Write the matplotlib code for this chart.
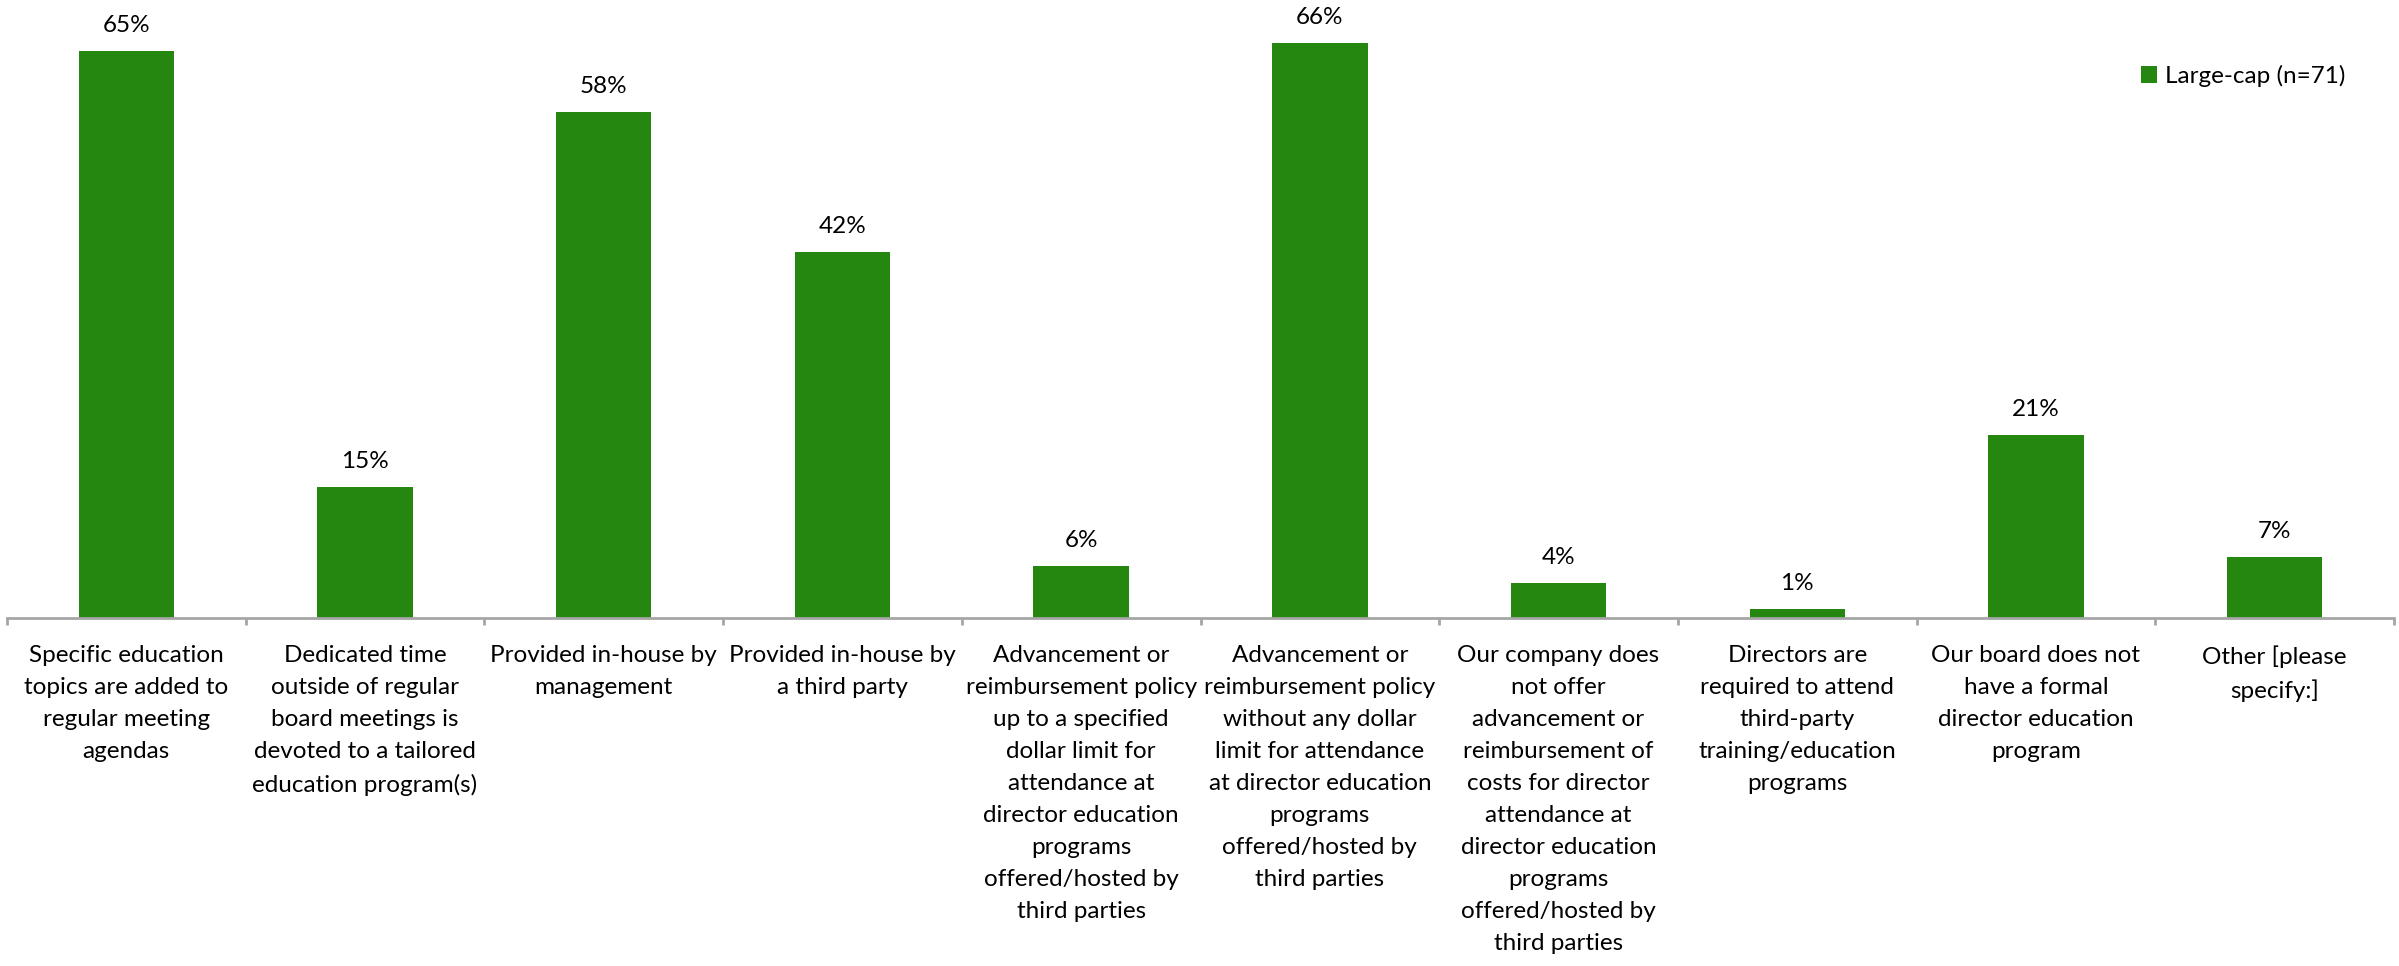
import matplotlib
matplotlib.use("Agg")
import matplotlib.pyplot as plt
from matplotlib.patches import Patch

categories = [
    "Specific education\ntopics are added to\nregular meeting\nagendas",
    "Dedicated time\noutside of regular\nboard meetings is\ndevoted to a tailored\neducation program(s)",
    "Provided in-house by\nmanagement",
    "Provided in-house by\na third party",
    "Advancement or\nreimbursement policy\nup to a specified\ndollar limit for\nattendance at\ndirector education\nprograms\noffered/hosted by\nthird parties",
    "Advancement or\nreimbursement policy\nwithout any dollar\nlimit for attendance\nat director education\nprograms\noffered/hosted by\nthird parties",
    "Our company does\nnot offer\nadvancement or\nreimbursement of\ncosts for director\nattendance at\ndirector education\nprograms\noffered/hosted by\nthird parties",
    "Directors are\nrequired to attend\nthird-party\ntraining/education\nprograms",
    "Our board does not\nhave a formal\ndirector education\nprogram",
    "Other [please\nspecify:]",
]
values = [65, 15, 58, 42, 6, 66, 4, 1, 21, 7]
series_name = "Large-cap (n=71)"

GREEN = "#268710"
AXIS_GRAY = "#A6A6A6"
FONT = ["Lato", "DejaVu Sans"]
FS = 17.5

W, H = 2399, 966
fig = plt.figure(figsize=(W / 100, H / 100), dpi=100)
ax = fig.add_axes([7 / W, (H - 618) / H, (2394 - 7) / W, 618 / H])

x = list(range(len(values)))
bars = ax.bar(x, values, width=0.40, color=GREEN, zorder=2)

ax.set_xlim(-0.5, len(values) - 0.5)
ax.set_ylim(0, 70.9)

for b, v in zip(bars, values):
    ax.annotate(f"{v}%", (b.get_x() + b.get_width() / 2, v),
                xytext=(0, 15), textcoords="offset pixels",
                ha="center", va="bottom", fontsize=FS, family=FONT,
                color="#000000")

# category axis: only the bottom line with ticks between categories
for s in ("top", "right", "left"):
    ax.spines[s].set_visible(False)
ax.spines["bottom"].set_color(AXIS_GRAY)
ax.spines["bottom"].set_linewidth(2)
ax.set_yticks([])
ax.set_xticks([i - 0.5 for i in range(len(values) + 1)])
ax.set_xticklabels([])
ax.tick_params(axis="x", direction="out", length=5, width=2, color=AXIS_GRAY)

for i, lab in enumerate(categories):
    ax.annotate(lab, (i, 0), xytext=(0, -27), textcoords="offset pixels",
                ha="center", va="top", fontsize=FS, family=FONT,
                linespacing=1.645, color="#000000", annotation_clip=False)

leg = fig.legend(handles=[Patch(facecolor=GREEN, label=series_name)],
                 loc="center left", bbox_to_anchor=(2141 / W, 1 - 76 / H),
                 frameon=False, prop={"family": FONT, "size": FS},
                 handlelength=0.65, handleheight=0.65, handletextpad=0.35,
                 borderaxespad=0, borderpad=0)

fig.savefig("out.png", dpi=100, facecolor="white")
